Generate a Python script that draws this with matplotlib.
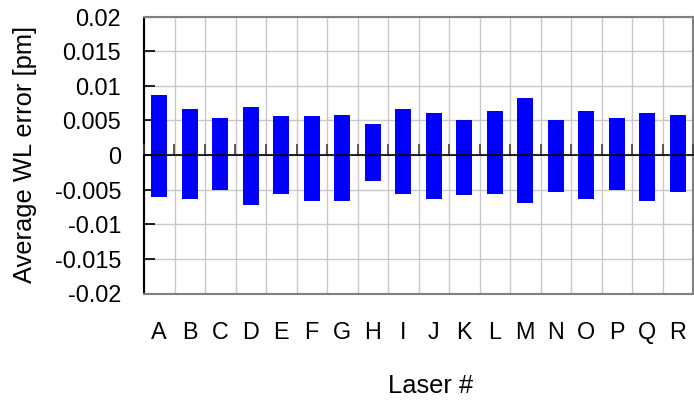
import matplotlib
matplotlib.use("Agg")
import matplotlib.pyplot as plt
import numpy as np

plt.rcParams['font.family'] = ['Liberation Sans', 'DejaVu Sans']

lasers = list("ABCDEFGHIJKLMNOPQR")
pos_err = [0.0087, 0.0066, 0.0054, 0.0069, 0.0056, 0.0056, 0.0058, 0.0045, 0.0067,
           0.0060, 0.0051, 0.0064, 0.0082, 0.0050, 0.0063, 0.0054, 0.0061, 0.0058]
neg_err = [-0.0060, -0.0064, -0.0050, -0.0072, -0.0056, -0.0067, -0.0066, -0.0037, -0.0057,
           -0.0064, -0.0058, -0.0056, -0.0070, -0.0054, -0.0063, -0.0051, -0.0066, -0.0053]
yticks = [0.02, 0.015, 0.01, 0.005, 0, -0.005, -0.01, -0.015, -0.02]
ytick_labels = ["0.02", "0.015", "0.01", "0.005", "0", "-0.005", "-0.01", "-0.015", "-0.02"]

FS_TICK = 16.8
FS_LABEL = 18.4

fig = plt.figure(figsize=(6.94, 4.0), dpi=100)
ax = fig.add_axes([144/694, 1-293.5/400, (693-144)/694, (293.5-16.5)/400])

x = np.arange(len(lasers))
ax.bar(x, pos_err, width=0.52, color='#0000FF', zorder=3)
ax.bar(x, neg_err, width=0.52, color='#0000FF', zorder=3)

ax.set_xlim(-0.5, len(lasers) - 0.5)
ax.set_ylim(-0.02, 0.02)
ax.set_yticks(yticks)
ax.set_yticklabels(ytick_labels)
ax.set_xticks(x)
ax.set_xticklabels(lasers)
ax.set_xticks(np.arange(len(lasers) + 1) - 0.5, minor=True)

ax.tick_params(axis='x', which='both', length=0, labelsize=FS_TICK, pad=20)
ax.tick_params(axis='y', direction='in', length=8, width=1.2, labelsize=FS_TICK, pad=16.5, colors='black')
ax.grid(axis='y', which='major', color='#c8c8c8', linewidth=1, zorder=0)
ax.grid(axis='x', which='minor', color='#c8c8c8', linewidth=1, zorder=0)

for s in ['top', 'right', 'bottom']:
    ax.spines[s].set_color('#808080')
    ax.spines[s].set_linewidth(1.5)
ax.spines['left'].set_color('black')
ax.spines['left'].set_linewidth(1.5)

# zero axis with category-boundary tick marks
ax2 = ax.twiny()
ax2.set_xlim(ax.get_xlim())
ax2.spines['bottom'].set_position(('data', 0))
ax2.spines['bottom'].set_color('black')
ax2.spines['bottom'].set_linewidth(1.2)
ax2.spines['bottom'].set_zorder(4)
for s in ['top', 'right', 'left']:
    ax2.spines[s].set_visible(False)
ax2.xaxis.set_ticks_position('bottom')
ax2.set_xticks(np.arange(len(lasers) + 1) - 0.5)
ax2.set_xticklabels([])
ax2.tick_params(axis='x', direction='in', length=8, width=1.2, color='#404040')
ax2.patch.set_visible(False)

ax.set_xlabel("Laser #", fontsize=FS_LABEL)
ax.xaxis.set_label_coords((431 - 144) / 549, (293.5 - 374) / 277)
ax.set_ylabel("Average WL error [pm]", fontsize=FS_LABEL)
ax.yaxis.set_label_coords((37 - 144) / 549, (293.5 - 154) / 277)

fig.savefig("out.png", dpi=100)
